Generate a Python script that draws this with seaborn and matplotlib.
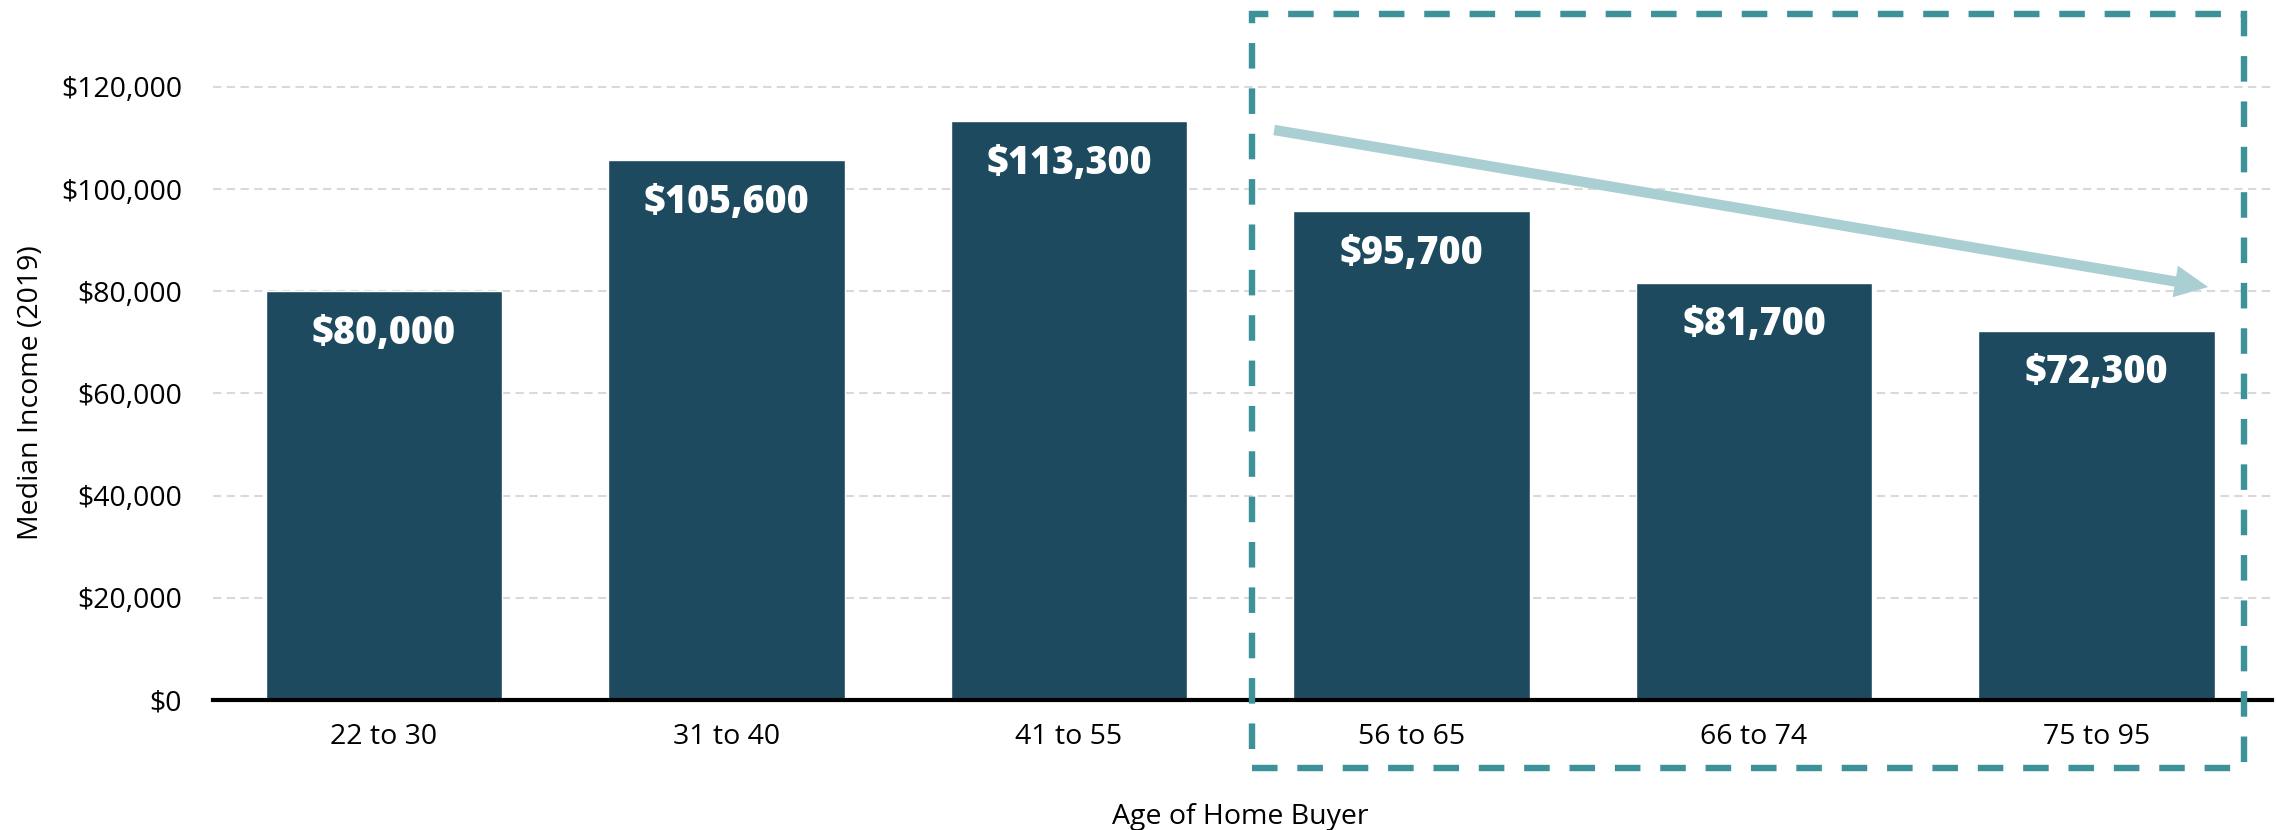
import matplotlib
matplotlib.use("Agg")
import matplotlib.pyplot as plt
import seaborn as sns
from matplotlib.patches import Rectangle
from matplotlib.ticker import FuncFormatter

# ---- data ----
categories = ["22 to 30", "31 to 40", "41 to 55", "56 to 65", "66 to 74", "75 to 95"]
values = [80000, 105600, 113300, 95700, 81700, 72300]
value_labels = ["$80,000", "$105,600", "$113,300", "$95,700", "$81,700", "$72,300"]
y_ticks = [0, 20000, 40000, 60000, 80000, 100000, 120000]

BAR = "#1d4a5e"
TEAL = "#3d9299"
ARROW = "#aacfd3"

sns.set_theme(style="white")
plt.rcParams["font.family"] = ["Open Sans", "DejaVu Sans"]

W, H = 2277, 830
fig = plt.figure(figsize=(W / 100, H / 100), dpi=100)
# pixel geometry
x0_px, step_px = 384.0, 342.5
base_px, px_per_k = 700.0, 5.11
xlim = (-0.5, 5.512)
ylim = (0, 125000)
left_px = x0_px + xlim[0] * step_px
right_px = x0_px + xlim[1] * step_px
top_px = base_px - ylim[1] / 1000 * px_per_k
ax = fig.add_axes([left_px / W, 1 - base_px / H, (right_px - left_px) / W, (base_px - top_px) / H])
ax_w, ax_h = right_px - left_px, base_px - top_px

sns.barplot(x=categories, y=values, color=BAR, saturation=1, width=0.69, ax=ax, zorder=2)
ax.set_xlim(*xlim)
ax.set_ylim(*ylim)
ax.set_yticks(y_ticks)
ax.yaxis.set_major_formatter(FuncFormatter(lambda v, p: f"${int(v):,}"))

for s in ["left", "top", "right"]:
    ax.spines[s].set_visible(False)
ax.spines["bottom"].set_color("black")
ax.spines["bottom"].set_linewidth(3)
ax.spines["bottom"].set_zorder(3)

ax.grid(axis="y", color="#d9d9d9", linewidth=1.5, linestyle=(0, (4, 2.6)), zorder=0)
ax.grid(axis="x", visible=False)
ax.set_axisbelow(True)

ax.tick_params(axis="y", length=0, pad=22, labelsize=20.5, colors="black")
ax.tick_params(axis="x", length=0, pad=16.5, labelsize=20.5, colors="black")

ax.set_xlabel("Age of Home Buyer", fontsize=20.5, color="black")
ax.set_ylabel("Median Income (2019)", fontsize=20.5, color="black")
ax.xaxis.set_label_coords((1240 - left_px) / ax_w, (base_px - 817) / ax_h)
ax.xaxis.label.set_va("center")
ax.yaxis.set_label_coords((31 - left_px) / ax_w, (base_px - 393) / ax_h)
ax.yaxis.label.set_va("center")

for i, (v, lab) in enumerate(zip(values, value_labels)):
    ax.annotate(lab, xy=(i, v), xytext=(0, -30.5), textcoords="offset points",
                ha="center", va="center", color="white", fontsize=27,
                fontweight=800, zorder=4)

# dashed highlight box
bx0, bx1 = (1252 - x0_px) / step_px, (2244 - x0_px) / step_px
by0, by1 = (base_px - 768) / px_per_k * 1000, (base_px - 14) / px_per_k * 1000
box = Rectangle((bx0, by0), bx1 - bx0, by1 - by0, fill=False,
                edgecolor=TEAL, linewidth=4.6, linestyle=(0, (4.0, 3.1)),
                clip_on=False, zorder=5)
ax.add_patch(box)

# trend arrow
ax.annotate("", xy=(5.326, 80820), xytext=(2.599, 111550),
            arrowprops=dict(arrowstyle="simple,head_length=2.4,head_width=2.3,tail_width=0.75",
                            mutation_scale=10, color=ARROW, shrinkA=0, shrinkB=0, lw=0),
            annotation_clip=False, zorder=4)

fig.savefig("out.png", dpi=100, facecolor="white")
